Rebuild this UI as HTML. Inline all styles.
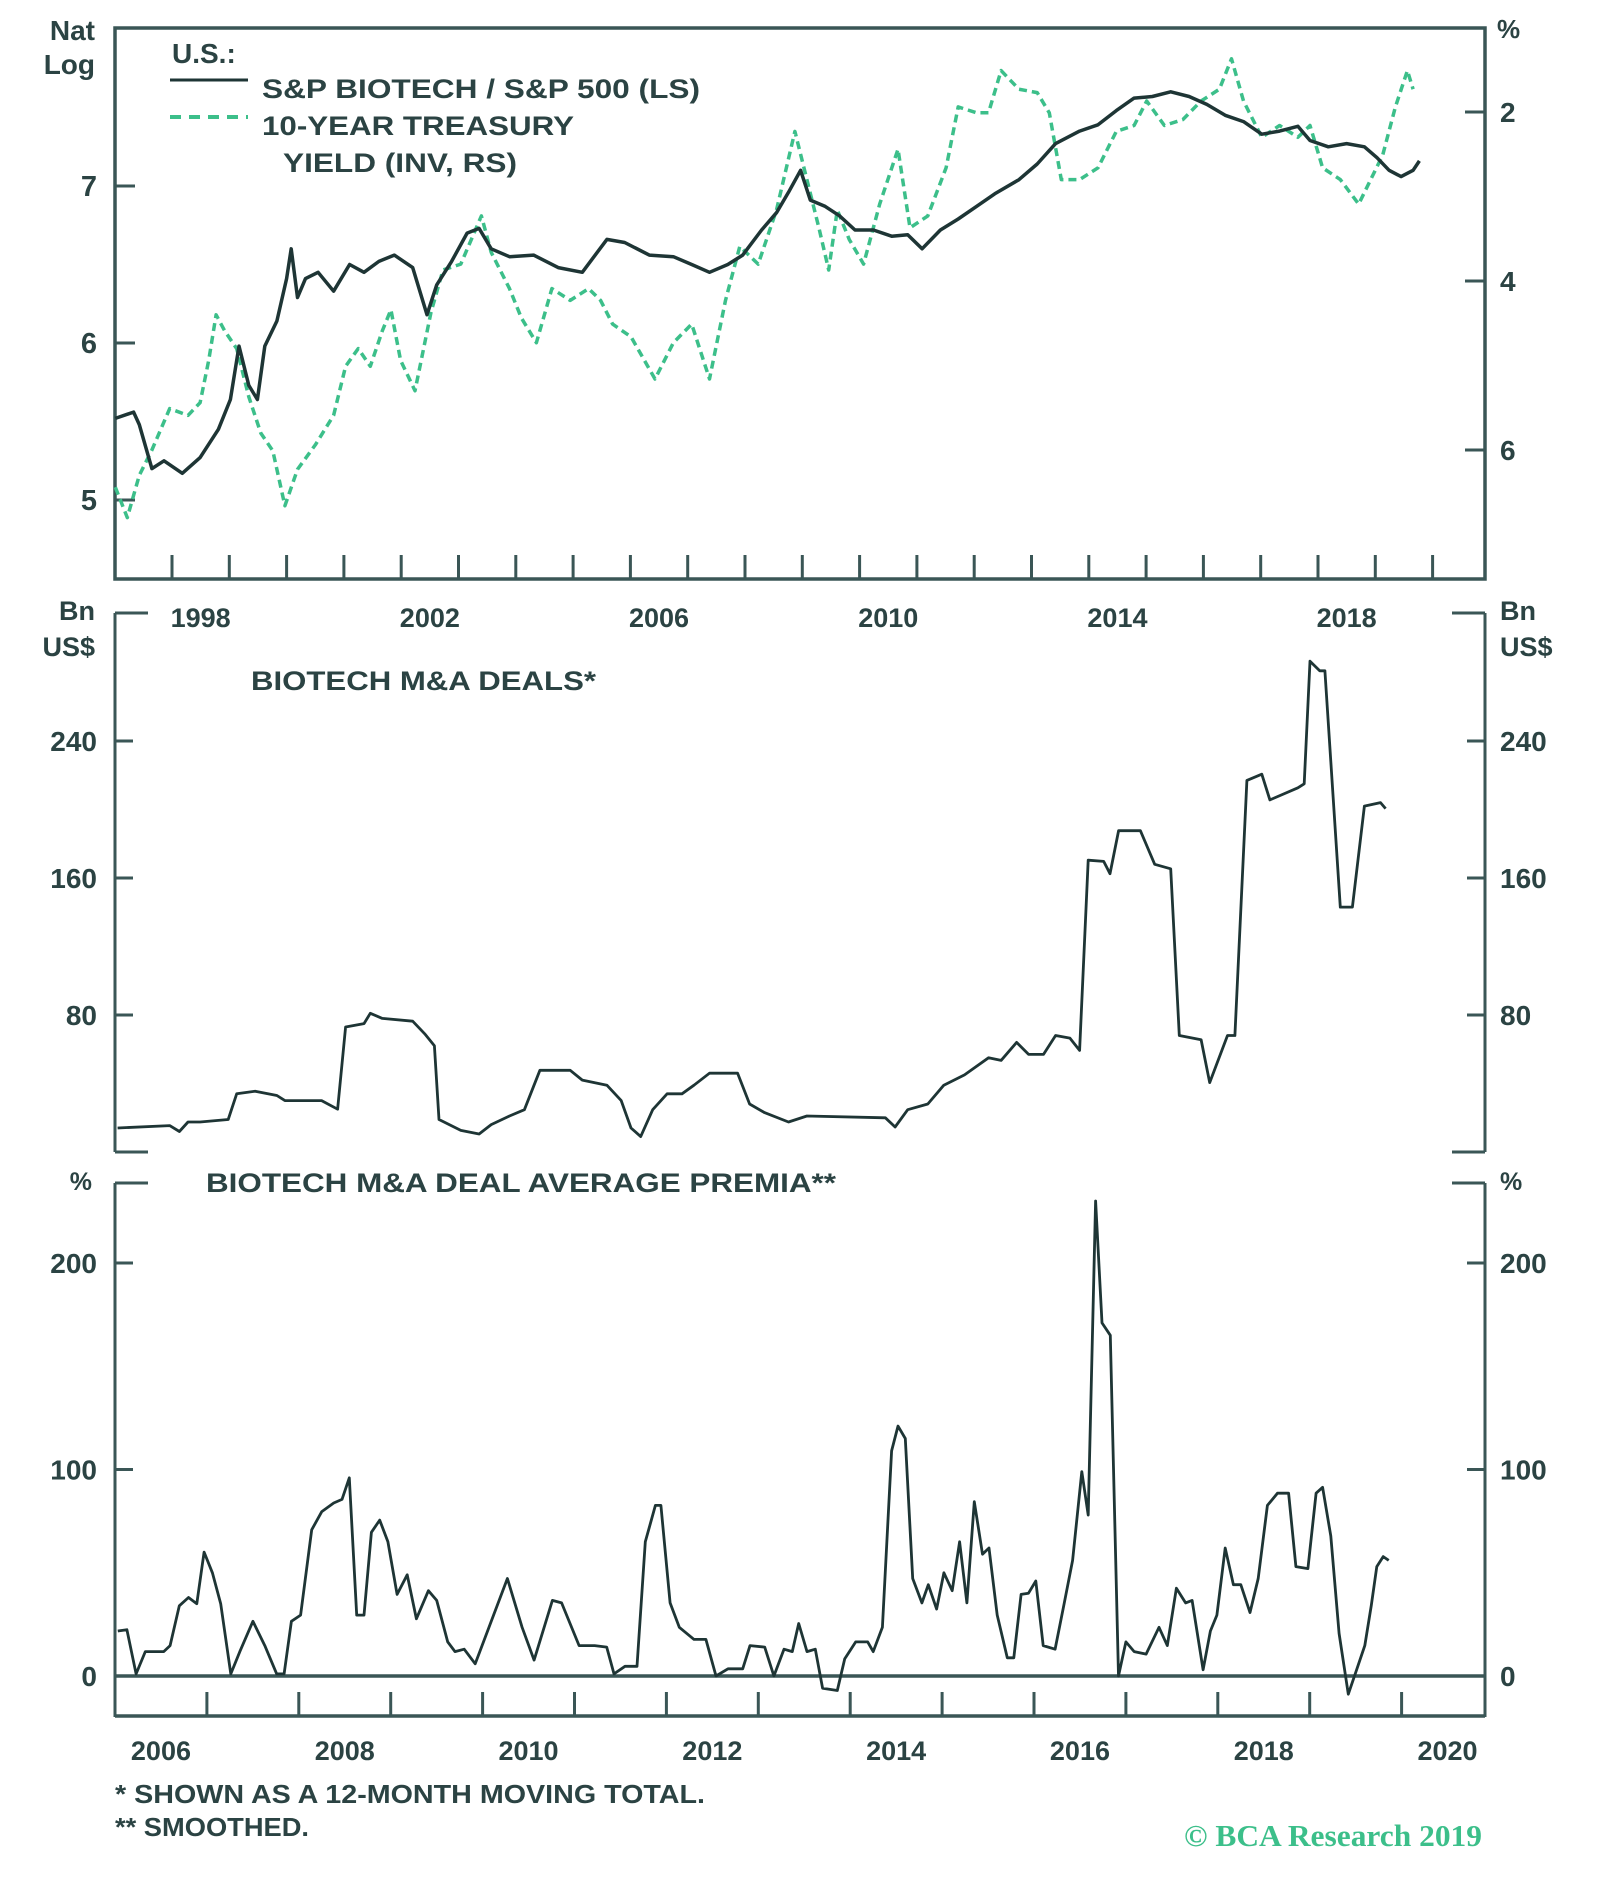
<!DOCTYPE html>
<html><head><meta charset="utf-8"><style>
html,body{margin:0;padding:0;background:#fff;}
svg{display:block;}
text{font-family:"Liberation Sans",sans-serif;font-weight:bold;fill:#2b4343;}
</style></head><body>
<svg id="chart" width="1600" height="1904" viewBox="0 0 1600 1904" xmlns="http://www.w3.org/2000/svg">
<g id="axes"></g>
<g id="series"></g>
<g id="labels">
  <text x="95" y="40" font-size="28" text-anchor="end">Nat</text>
  <text x="95" y="74" font-size="28" text-anchor="end">Log</text>
  <text x="1497" y="38" font-size="26">%</text>
  <text x="172" y="63" font-size="28">U.S.:</text>
  <line x1="170" y1="80" x2="248" y2="80" stroke="#1e3535" stroke-width="3"/>
  <text x="262" y="98" font-size="27" textLength="438" lengthAdjust="spacingAndGlyphs">S&amp;P BIOTECH / S&amp;P 500 (LS)</text>
  <line x1="170" y1="117" x2="248" y2="117" stroke="#3cbf8a" stroke-width="4" stroke-dasharray="11,8"/>
  <text x="262" y="135" font-size="27" textLength="312" lengthAdjust="spacingAndGlyphs">10-YEAR TREASURY</text>
  <text x="283" y="172" font-size="27" textLength="234" lengthAdjust="spacingAndGlyphs">YIELD (INV, RS)</text>
  <text x="95" y="620" font-size="27" text-anchor="end">Bn</text>
  <text x="95" y="656" font-size="27" text-anchor="end">US$</text>
  <text x="1500" y="620" font-size="27">Bn</text>
  <text x="1500" y="656" font-size="27">US$</text>
  <text x="251" y="690" font-size="27" textLength="345" lengthAdjust="spacingAndGlyphs">BIOTECH M&amp;A DEALS*</text>
  <text x="92" y="1190" font-size="25" text-anchor="end">%</text>
  <text x="1500" y="1190" font-size="25">%</text>
  <text x="206" y="1192" font-size="27" textLength="630" lengthAdjust="spacingAndGlyphs">BIOTECH M&amp;A DEAL AVERAGE PREMIA**</text>
  <text x="115" y="1803" font-size="26" textLength="590" lengthAdjust="spacingAndGlyphs">*  SHOWN AS A 12-MONTH MOVING TOTAL.</text>
  <text x="115" y="1836" font-size="26" textLength="194" lengthAdjust="spacingAndGlyphs">** SMOOTHED.</text>
  <text x="1482" y="1846" font-size="31" text-anchor="end" textLength="298" lengthAdjust="spacingAndGlyphs" style="font-family:'Liberation Serif',serif;font-weight:600;fill:#3cbf8a">© BCA Research 2019</text>
</g>
</svg>
<script>
// ---- top panel data ----
const bioYears=[1997.01,1997.33,1997.43,1997.65,1997.86,1998.18,1998.49,1998.81,1999.02,1999.17,1999.34,1999.49,1999.62,1999.83,2000.00,2000.08,2000.19,2000.33,2000.55,2000.82,2001.10,2001.35,2001.61,2001.88,2002.20,2002.45,2002.62,2002.88,2003.15,2003.36,2003.57,2003.89,2004.31,2004.74,2005.16,2005.59,2005.90,2006.33,2006.75,2007.07,2007.38,2007.70,2007.96,2008.29,2008.55,2008.76,2008.97,2009.14,2009.40,2009.65,2009.92,2010.24,2010.56,2010.84,2011.09,2011.41,2011.72,2012.04,2012.36,2012.78,2013.10,2013.42,2013.84,2014.16,2014.48,2014.79,2015.11,2015.43,2015.75,2016.06,2016.38,2016.70,2017.02,2017.33,2017.65,2017.86,2018.18,2018.50,2018.81,2019.03,2019.24,2019.45,2019.66,2019.77];
const bioValues=[5.52,5.56,5.48,5.2,5.25,5.17,5.27,5.45,5.64,5.98,5.73,5.64,5.98,6.14,6.41,6.6,6.29,6.41,6.45,6.33,6.5,6.45,6.52,6.56,6.48,6.18,6.37,6.52,6.7,6.73,6.6,6.55,6.56,6.48,6.45,6.66,6.64,6.56,6.55,6.5,6.45,6.5,6.56,6.72,6.83,6.96,7.1,6.91,6.87,6.81,6.72,6.72,6.68,6.69,6.6,6.72,6.79,6.87,6.95,7.04,7.14,7.27,7.35,7.39,7.48,7.56,7.57,7.6,7.57,7.52,7.45,7.41,7.33,7.35,7.38,7.29,7.25,7.27,7.25,7.18,7.1,7.06,7.1,7.16];
const tsyYears=[1997.01,1997.22,1997.43,1997.65,1997.96,1998.28,1998.49,1998.64,1998.77,1998.92,1999.13,1999.34,1999.55,1999.76,1999.97,2000.19,2000.50,2000.82,2001.03,2001.25,2001.46,2001.67,2001.82,2001.99,2002.24,2002.52,2002.73,2003.04,2003.40,2003.57,2003.89,2004.10,2004.36,2004.63,2004.95,2005.27,2005.48,2005.69,2006.01,2006.43,2006.75,2007.07,2007.38,2007.66,2007.91,2008.23,2008.55,2008.87,2009.08,2009.29,2009.46,2009.61,2009.82,2010.07,2010.35,2010.67,2010.88,2011.19,2011.51,2011.72,2012.04,2012.25,2012.47,2012.78,2013.10,2013.31,2013.52,2013.84,2014.16,2014.48,2014.79,2015.01,2015.32,2015.64,2015.96,2016.28,2016.49,2016.70,2017.02,2017.33,2017.65,2017.86,2018.08,2018.39,2018.71,2018.92,2019.13,2019.35,2019.56,2019.66];
const tsyValues=[6.44,6.8,6.3,6.0,5.51,5.59,5.44,4.94,4.4,4.59,4.8,5.37,5.8,6.01,6.66,6.23,5.94,5.59,5.01,4.8,5.01,4.59,4.34,4.94,5.3,4.37,3.87,3.8,3.23,3.66,4.09,4.44,4.73,4.09,4.23,4.09,4.23,4.51,4.66,5.16,4.73,4.51,5.16,4.23,3.59,3.8,3.16,2.23,2.8,3.37,3.87,3.16,3.51,3.8,3.09,2.44,3.37,3.23,2.66,1.94,2.01,2.01,1.51,1.73,1.77,2.01,2.8,2.8,2.66,2.23,2.16,1.87,2.16,2.09,1.87,1.73,1.37,1.87,2.3,2.16,2.3,2.16,2.66,2.8,3.09,2.8,2.51,1.94,1.51,1.73];
const topLeftTicks=[5,6,7];
const topRightTicks=[2,4,6];
const topYearLabels=[1998,2002,2006,2010,2014,2018];
// ---- middle panel data ----
const dealYears=[1997.05,1997.96,1998.13,1998.28,1998.49,1998.98,1999.13,1999.45,1999.83,1999.97,2000.61,2000.89,2001.03,2001.35,2001.46,2001.67,2002.20,2002.41,2002.58,2002.66,2003.04,2003.36,2003.57,2003.89,2004.15,2004.42,2004.95,2005.16,2005.59,2005.84,2006.01,2006.18,2006.39,2006.64,2006.90,2007.11,2007.38,2007.87,2008.08,2008.34,2008.76,2009.08,2010.45,2010.62,2010.84,2011.19,2011.47,2011.83,2012.25,2012.47,2012.74,2012.95,2013.21,2013.42,2013.67,2013.84,2013.99,2014.26,2014.37,2014.52,2014.90,2015.15,2015.43,2015.58,2015.96,2016.11,2016.42,2016.55,2016.76,2017.02,2017.16,2017.65,2017.76,2017.86,2018.03,2018.12,2018.39,2018.60,2018.81,2019.09,2019.18];
const dealValues=[14,15.4,12,17.5,17.5,19,34,35.5,33,30,30,25,73,75,81,78,76.4,69,62,19,12.6,10.5,16,21,24.7,47.7,47.7,42,39,30,14,9,24.7,34,34,39,46,46,28,23,17.5,21,20,14.6,24.7,28,39,45,55,53.5,64,57,57,68,66.5,59.3,170.4,169.7,162.5,187.6,187.6,168,165.4,68,65.6,40.5,68,68,217,220.6,205.6,212.7,215,286.6,281,281,143,143,202,204,200.5];
const dealTicks=[80,160,240];
// ---- bottom panel data ----
const premYears=[2006.03,2006.13,2006.23,2006.33,2006.53,2006.60,2006.70,2006.80,2006.89,2006.97,2007.06,2007.15,2007.26,2007.36,2007.50,2007.63,2007.76,2007.84,2007.92,2008.02,2008.14,2008.25,2008.38,2008.47,2008.55,2008.63,2008.71,2008.79,2008.88,2008.97,2009.07,2009.18,2009.28,2009.41,2009.50,2009.62,2009.70,2009.80,2009.92,2010.07,2010.27,2010.43,2010.56,2010.76,2010.86,2011.05,2011.22,2011.35,2011.43,2011.55,2011.68,2011.77,2011.88,2011.94,2012.04,2012.14,2012.30,2012.43,2012.54,2012.67,2012.83,2012.91,2013.07,2013.17,2013.28,2013.37,2013.44,2013.53,2013.62,2013.70,2013.86,2013.94,2014.06,2014.19,2014.25,2014.35,2014.45,2014.52,2014.60,2014.68,2014.78,2014.85,2014.94,2015.02,2015.11,2015.19,2015.27,2015.35,2015.44,2015.51,2015.60,2015.71,2015.78,2015.86,2015.94,2016.02,2016.10,2016.23,2016.33,2016.42,2016.52,2016.59,2016.67,2016.74,2016.83,2016.92,2017.00,2017.09,2017.22,2017.36,2017.45,2017.55,2017.65,2017.72,2017.84,2017.92,2017.99,2018.08,2018.17,2018.25,2018.35,2018.44,2018.54,2018.65,2018.77,2018.85,2018.98,2019.07,2019.14,2019.23,2019.32,2019.42,2019.51,2019.60,2019.67,2019.73,2019.80,2019.86];
const premValues=[21.8,22.4,1,11.8,11.8,14.7,34,38,35,60,50,35,1,12,26.5,14.7,1,1,26.5,29.5,70.8,79.6,83.8,85.5,96,29.5,29.5,69.6,75.5,65,39.5,49,27.7,41.3,36.6,16.5,11.8,13,5.9,23.6,47.2,23.6,7.7,36.6,35.4,14.7,14.7,14,1,4.7,4.7,65,82.6,82.6,35.4,23.6,17.7,17.7,0,3.5,3.5,14.7,14,0,13,11.8,25.4,11.8,13,-5.9,-7,8.3,16.5,16.5,11.8,23.6,109,121,115,47.2,35.4,44.2,32.4,50,41.3,65,35.4,84.4,59,62,29.5,8.8,8.8,39.5,40.1,46,14.7,13,35.4,56,99,77.9,230,171,165,0,16.5,11.8,10.6,23.6,14.7,42.5,35.4,36.6,3,21.8,29.5,62,44.2,44.2,30.7,47.2,82.6,88.5,88.5,53,52,88.5,91.4,67.8,20.6,-8.8,3,14.7,34.2,53,57.8,56];
const premTicks=[0,100,200];
const premYearLabels=[2006,2008,2010,2012,2014,2016,2018,2020];

const NS="http://www.w3.org/2000/svg";
const AX="#3a5656", LN="#1e3535", GR="#3cbf8a";
const L=115, R=1485;
const xTop=t=>172+(t-1998)*57.3;
const yLog=v=>186+(7-v)*157;
const yPct=v=>112+(v-2)*84.5;
const yDeal=v=>1152-v*137/80;
const xBot=t=>115+(t-2006)*91.9;
const yPrem=v=>1676-v*2.065;

const axes=document.getElementById('axes'), ser=document.getElementById('series'), lab=document.getElementById('labels');
function mk(tag,attrs,parent){const e=document.createElementNS(NS,tag);for(const k in attrs)e.setAttribute(k,attrs[k]);parent.appendChild(e);return e;}
function line(x1,y1,x2,y2,name,w){const e=mk('line',{x1,y1,x2,y2,stroke:AX,'stroke-width':w||3},axes);

return e;}
function txt(x,y,s,anchor,name,size){const e=mk('text',{x,y,'font-size':size||27,'text-anchor':anchor},lab);e.textContent=s;

return e;}
function path(xs,ys,fx,fy,color,w,dash,name){let d='';for(let i=0;i<xs.length;i++)d+=(i?'L':'M')+fx(xs[i]).toFixed(1)+','+fy(ys[i]).toFixed(1);
const e=mk('path',{d,fill:'none',stroke:color,'stroke-width':w,'stroke-linejoin':'round'},ser);if(dash)e.setAttribute('stroke-dasharray',dash);

return e;}

const frame=mk('rect',{x:L,y:28,width:R-L,height:551,fill:'none',stroke:AX,'stroke-width':3.5},axes);


for(let y=1998;y<=2020;y++){const x=xTop(y);if(x>R-5)continue;line(x,579,x,555,'top-x-tick');}
topLeftTicks.forEach(v=>{line(L,yLog(v),L+20,yLog(v),'top-left-tick');txt(97,yLog(v)+10,String(v),'end','top-left-label',29);});
topRightTicks.forEach(v=>{line(R-20,yPct(v),R,yPct(v),'top-right-tick');txt(1500,yPct(v)+10,String(v),'start','top-right-label',28);});
topYearLabels.forEach(y=>txt(xTop(y+0.5),627,String(y),'middle','top-x-label',27));

line(L,613,L,1152,'mid-left-axis');line(L,613,L+33,613,'mid-left-cap');line(L,1152,L+33,1152,'mid-left-cap-bottom');
line(R,613,R,1152,'mid-right-axis');line(R-33,613,R,613,'mid-right-cap');line(R-33,1152,R,1152,'mid-right-cap-bottom');
dealTicks.forEach(v=>{line(L,yDeal(v),L+18,yDeal(v),'mid-left-tick');line(R-18,yDeal(v),R,yDeal(v),'mid-right-tick');
txt(97,yDeal(v)+10,String(v),'end','mid-left-label',28);txt(1500,yDeal(v)+10,String(v),'start','mid-right-label',28);});

line(L,1183,L,1717,'bottom-left-axis');line(L,1183,L+33,1183,'bottom-left-cap');
line(R,1183,R,1717,'bottom-right-axis');line(R-33,1183,R,1183,'bottom-right-cap');
line(L,1716,R,1716,'bottom-x-axis',3.5);
line(L,yPrem(0),R,yPrem(0),'zero-line',3.5);
for(let y=2007;y<=2021;y++){const x=xBot(y);if(x>R-5)continue;line(x,1716,x,1692,'bottom-x-tick');}
premTicks.forEach(v=>{line(L,yPrem(v),L+18,yPrem(v),'bottom-left-tick');line(R-18,yPrem(v),R,yPrem(v),'bottom-right-tick');
txt(97,yPrem(v)+10,String(v),'end','bottom-left-label',28);txt(1500,yPrem(v)+10,String(v),'start','bottom-right-label',28);});
premYearLabels.forEach(y=>txt(xBot(y+0.5),1760,String(y),'middle','bottom-x-label',27));

path(tsyYears,tsyValues,xTop,yPct,GR,3.5,'8,5','treasury-yield-line');
path(bioYears,bioValues,xTop,yLog,LN,3.5,null,'biotech-ratio-line');
path(dealYears,dealValues,xTop,yDeal,LN,2.8,null,'deals-line');
path(premYears,premValues,xBot,yPrem,LN,2.8,null,'premia-line');
</script>
</body></html>
